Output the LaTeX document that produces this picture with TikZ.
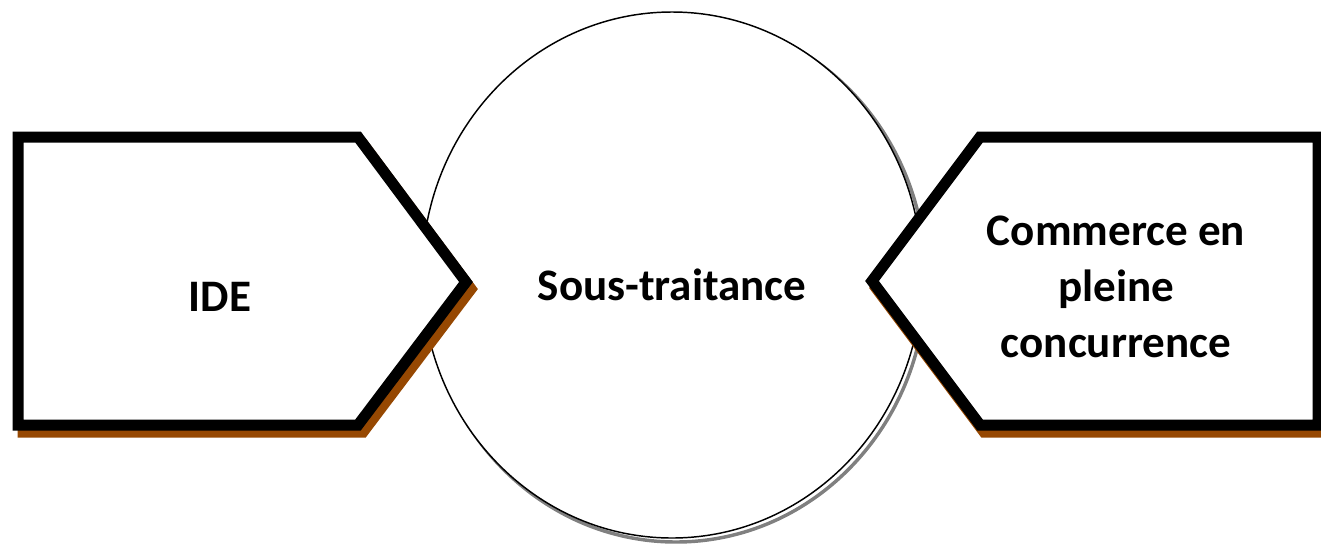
\documentclass[tikz,border=0pt]{standalone}
\usepackage{fontspec}
\setmainfont{Carlito}
\definecolor{shadowbrown}{RGB}{150,72,2}
\definecolor{shadowgray}{RGB}{128,128,128}
\tikzset{
  arrowbox/.style={draw=black, line width=8.25pt, fill=white, line join=miter, miter limit=10},
  arrowshadow/.style={draw=shadowbrown, fill=shadowbrown, line width=8.25pt, line join=miter, miter limit=10},
  label/.style={font=\fontsize{33.8pt}{42pt}\selectfont\bfseries, align=center, inner sep=0pt, text=black}
}
\begin{document}
\begin{tikzpicture}[x=0.75pt, y=-0.75pt]
\useasboundingbox (0,0) rectangle (1321,544);
% central ellipse with shadow
\draw[shadowgray, line width=2.6pt] (676,279) ellipse [x radius=250, y radius=263];
\draw[black, line width=1.1pt, fill=white] (672,275) ellipse [x radius=250, y radius=263];
\node[label] (sous) at (672,285) {Sous-traitance};
% left pentagon
\draw[arrowshadow] (23,144) -- (363,144) -- (471,289) -- (363,432) -- (23,432) -- cycle;
\draw[arrowbox] (18,137) -- (358,137) -- (466,282) -- (358,425) -- (18,425) -- cycle;
\node[label] (ide) at (220,297) {IDE};
% right pentagon
\draw[arrowshadow] (984,144) -- (1322,144) -- (1322,432) -- (984,432) -- (876,288) -- cycle;
\draw[arrowbox] (980,137) -- (1318,137) -- (1318,425) -- (980,425) -- (872,281) -- cycle;
\node[label] (comm) at (1116,287) {Commerce en\\pleine\\concurrence};
\end{tikzpicture}
\end{document}
